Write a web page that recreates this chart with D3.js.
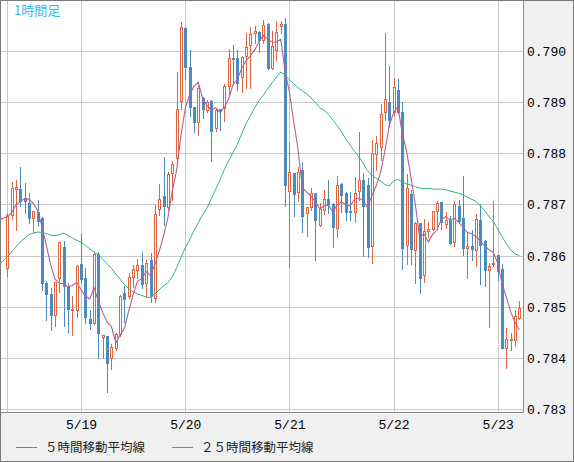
<!DOCTYPE html>
<html><head><meta charset="utf-8">
<script src="https://cdn.jsdelivr.net/npm/d3@7"></script>
<style>html,body{margin:0;padding:0;background:#f0f0f0;}svg{display:block}</style>
</head><body><svg id="c" width="574" height="462"></svg>
<script>
// ---- data (1-hour candles, 5/18 07:00 onward) ----
const startTime = new Date(2018, 4, 18, 7);
const open = [0.78575,0.78680,0.78730,0.78731,0.78712,0.78703,0.78674,0.78686,0.78674,0.78547,
0.78525,0.78483,0.78557,0.78617,0.78540,0.78495,0.78494,0.78584,0.78556,0.78476,
0.78468,0.78603,0.78441,0.78443,0.78399,0.78420,0.78446,0.78527,0.78520,0.78559,
0.78572,0.78582,0.78546,0.78592,0.78517,0.78691,0.78716,0.78695,0.78762,0.78791,
0.78903,0.79045,0.78968,0.78890,0.78861,0.78909,0.78884,0.78903,0.78850,0.78886,
0.78889,0.78932,0.78987,0.78987,0.78950,0.78991,0.79011,0.79036,0.79038,0.79022,
0.79053,0.78966,0.79002,0.79048,0.79052,0.78727,0.78761,0.78724,0.78768,0.78683,
0.78694,0.78722,0.78659,0.78689,0.78710,0.78701,0.78654,0.78740,0.78723,0.78688,
0.78686,0.78727,0.78748,0.78738,0.78618,0.78798,0.78813,0.78880,0.78901,0.78880,
0.78924,0.78880,0.78620,0.78721,0.78611,0.78663,0.78562,0.78649,0.78652,0.78688,
0.78705,0.78662,0.78669,0.78627,0.78696,0.78674,0.78615,0.78618,0.78610,0.78670,
0.78629,0.78571,0.78583,0.78602,0.78574,0.78420,0.78435,0.78435,0.78478];
const high = [0.78684,0.78743,0.78748,0.78774,0.78742,0.78722,0.78688,0.78709,0.78676,0.78551,
0.78537,0.78549,0.78627,0.78629,0.78547,0.78521,0.78582,0.78643,0.78576,0.78494,
0.78605,0.78607,0.78444,0.78443,0.78427,0.78449,0.78522,0.78541,0.78565,0.78582,
0.78594,0.78607,0.78592,0.78605,0.78699,0.78740,0.78793,0.78763,0.78784,0.78958,
0.79056,0.79046,0.79002,0.78891,0.78932,0.78910,0.78905,0.78905,0.78888,0.78887,
0.78936,0.79003,0.79012,0.79002,0.78991,0.79035,0.79046,0.79049,0.79039,0.79060,
0.79054,0.79039,0.79059,0.79059,0.79064,0.78823,0.78762,0.78774,0.78782,0.78695,
0.78732,0.78723,0.78703,0.78728,0.78748,0.78703,0.78755,0.78741,0.78724,0.78724,
0.78753,0.78842,0.78762,0.78752,0.78826,0.78833,0.78896,0.79035,0.78971,0.78948,
0.78946,0.78900,0.78760,0.78729,0.78666,0.78664,0.78671,0.78666,0.78688,0.78707,
0.78705,0.78686,0.78678,0.78707,0.78709,0.78756,0.78644,0.78650,0.78682,0.78701,
0.78631,0.78586,0.78707,0.78602,0.78584,0.78458,0.78448,0.78493,0.78512];
const low = [0.78560,0.78672,0.78650,0.78696,0.78684,0.78664,0.78646,0.78658,0.78533,0.78474,
0.78455,0.78463,0.78529,0.78463,0.78450,0.78444,0.78480,0.78547,0.78469,0.78456,
0.78467,0.78400,0.78400,0.78334,0.78378,0.78416,0.78443,0.78471,0.78517,0.78539,
0.78556,0.78537,0.78519,0.78510,0.78510,0.78680,0.78659,0.78689,0.78709,0.78787,
0.78887,0.78946,0.78873,0.78842,0.78836,0.78869,0.78881,0.78784,0.78843,0.78845,
0.78863,0.78912,0.78936,0.78924,0.78920,0.78927,0.78927,0.79015,0.78999,0.79016,
0.78965,0.78965,0.78983,0.79035,0.78696,0.78578,0.78678,0.78706,0.78647,0.78639,
0.78689,0.78592,0.78658,0.78682,0.78684,0.78616,0.78637,0.78686,0.78669,0.78669,
0.78665,0.78708,0.78600,0.78598,0.78585,0.78768,0.78787,0.78865,0.78852,0.78872,
0.78879,0.78574,0.78584,0.78584,0.78547,0.78527,0.78548,0.78637,0.78650,0.78652,
0.78651,0.78654,0.78623,0.78618,0.78666,0.78602,0.78556,0.78592,0.78580,0.78545,
0.78541,0.78461,0.78580,0.78553,0.78420,0.78381,0.78416,0.78424,0.78476];
const close = [0.78680,0.78732,0.78734,0.78706,0.78706,0.78674,0.78688,0.78667,0.78546,0.78525,
0.78483,0.78549,0.78626,0.78541,0.78495,0.78496,0.78579,0.78555,0.78479,0.78468,
0.78603,0.78448,0.78444,0.78389,0.78422,0.78446,0.78521,0.78515,0.78559,0.78574,
0.78582,0.78544,0.78585,0.78520,0.78681,0.78711,0.78696,0.78760,0.78779,0.78886,
0.79047,0.78968,0.78891,0.78862,0.78928,0.78887,0.78901,0.78844,0.78885,0.78883,
0.78932,0.78986,0.78984,0.78938,0.78989,0.79008,0.79034,0.79039,0.79022,0.79051,
0.78966,0.79010,0.79037,0.79052,0.78738,0.78764,0.78720,0.78763,0.78678,0.78695,
0.78722,0.78669,0.78691,0.78710,0.78701,0.78656,0.78738,0.78719,0.78686,0.78685,
0.78722,0.78748,0.78697,0.78617,0.78800,0.78820,0.78877,0.78906,0.78865,0.78929,
0.78880,0.78615,0.78733,0.78613,0.78663,0.78556,0.78648,0.78652,0.78688,0.78703,
0.78665,0.78670,0.78624,0.78701,0.78667,0.78615,0.78618,0.78613,0.78672,0.78620,
0.78572,0.78580,0.78586,0.78569,0.78420,0.78437,0.78437,0.78482,0.78497];
// 5-hour MA values read at the left edge (positions -2..3), before the window fills
const ma5Lead = [0.78669,0.78673,0.78676,0.78684,0.78699,0.78706];
// 25-hour MA (positions -2..118)
const ma25 = [0.78581,0.78590,
0.78598,0.78607,0.78617,0.78627,0.78634,0.78641,0.78644,0.78646,0.78645,0.78643,
0.78640,0.78639,0.78641,0.78644,0.78639,0.78634,0.78630,0.78626,0.78620,0.78613,
0.78607,0.78602,0.78593,0.78584,0.78575,0.78564,0.78554,0.78543,0.78535,0.78529,
0.78525,0.78522,0.78519,0.78518,0.78525,0.78533,0.78541,0.78547,0.78558,0.78576,
0.78596,0.78615,0.78631,0.78648,0.78664,0.78680,0.78693,0.78711,0.78729,0.78748,
0.78768,0.78785,0.78801,0.78817,0.78838,0.78858,0.78873,0.78889,0.78903,0.78914,
0.78926,0.78938,0.78949,0.78959,0.78953,0.78944,0.78936,0.78928,0.78922,0.78916,
0.78908,0.78899,0.78889,0.78884,0.78876,0.78865,0.78854,0.78842,0.78828,0.78816,
0.78804,0.78793,0.78781,0.78766,0.78757,0.78751,0.78746,0.78739,0.78736,0.78746,
0.78749,0.78744,0.78740,0.78738,0.78735,0.78732,0.78731,0.78731,0.78730,0.78730,
0.78730,0.78729,0.78726,0.78724,0.78722,0.78719,0.78714,0.78710,0.78706,0.78697,
0.78688,0.78676,0.78666,0.78652,0.78637,0.78623,0.78611,0.78603,0.78600];
const priceTicks = [0.783,0.784,0.785,0.786,0.787,0.788,0.789,0.790];
const titleText = "1時間足";
const legendLabels = ["５時間移動平均線", "２５時間移動平均線"];
const colors = {up:"#e0643e", down:"#4a8bc2", ma5:"#bb5e8e", ma25:"#2fb57c", grid:"#c8c8c8"};

// ---- chart ----
const svg = d3.select("#c");
const n = close.length;
const times = d3.range(n).map(i => d3.timeHour.offset(startTime, i));
const x = d3.scaleLinear().domain([0, n - 1]).range([7.3, 7.3 + 4.34 * (n - 1)]);
const y = d3.scaleLinear().domain([0.783, 0.790]).range([409, 51]);
const plot = {l: 1, t: 1, r: 523, b: 412};

svg.append("rect").attr("x", 0).attr("y", 0).attr("width", 574).attr("height", 462).attr("fill", "#f0f0f0");
svg.append("rect").attr("x", plot.l).attr("y", plot.t).attr("width", plot.r - plot.l).attr("height", plot.b - plot.t).attr("fill", "#fff");
svg.append("clipPath").attr("id", "clip").append("rect")
  .attr("x", plot.l).attr("y", plot.t).attr("width", plot.r - plot.l).attr("height", plot.b - plot.t);

// grid
const dayIdx = d3.range(n).filter(i => times[i].getHours() === 0);
const g = svg.append("g").attr("clip-path", "url(#clip)");
g.selectAll("line.h").data(priceTicks).join("line")
  .attr("x1", plot.l).attr("x2", plot.r)
  .attr("y1", d => Math.round(y(d)) + 0.5).attr("y2", d => Math.round(y(d)) + 0.5)
  .attr("stroke", colors.grid);
g.selectAll("line.v").data([0, ...dayIdx]).join("line")
  .attr("x1", d => Math.round(x(d)) + 0.5).attr("x2", d => Math.round(x(d)) + 0.5)
  .attr("y1", plot.t).attr("y2", plot.b)
  .attr("stroke", colors.grid);

// candles
const cg = svg.append("g").attr("clip-path", "url(#clip)");
d3.range(n).forEach(i => {
  const cx = Math.round(x(i));
  const up = close[i] >= open[i];
  const col = up ? colors.up : colors.down;
  cg.append("line").attr("x1", cx + 0.5).attr("x2", cx + 0.5)
    .attr("y1", Math.round(y(high[i]))).attr("y2", Math.round(y(low[i])) + 1)
    .attr("stroke", col).attr("stroke-width", 1);
  const top = Math.round(y(Math.max(open[i], close[i])));
  const bot = Math.round(y(Math.min(open[i], close[i])));
  if (up) {
    cg.append("rect").attr("x", cx - 0.5).attr("y", top + 0.5)
      .attr("width", 2).attr("height", Math.max(1, bot - top))
      .attr("fill", "#fff").attr("stroke", col).attr("stroke-width", 1);
  } else {
    cg.append("rect").attr("x", cx - 1).attr("y", top)
      .attr("width", 3).attr("height", Math.max(1, bot - top + 1))
      .attr("fill", col);
  }
});

// moving averages
const ma5 = d3.range(-2, n).map(i => i < 4 ? ma5Lead[i + 2] : d3.mean(close.slice(i - 4, i + 1)));
const line = d3.line().x((d, k) => x(k - 2)).y(d => y(d));
const lg = svg.append("g").attr("clip-path", "url(#clip)");
lg.append("path").datum(ma25).attr("d", line).attr("fill", "none")
  .attr("stroke", colors.ma25).attr("stroke-width", 1);
lg.append("path").datum(ma5).attr("d", line).attr("fill", "none")
  .attr("stroke", colors.ma5).attr("stroke-width", 1.1);

// plot borders
svg.append("line").attr("x1", plot.r + 0.5).attr("x2", plot.r + 0.5).attr("y1", 0).attr("y2", plot.b + 1).attr("stroke", "#8c8c8c");
svg.append("line").attr("x1", 0).attr("x2", plot.r + 1).attr("y1", plot.b + 0.5).attr("y2", plot.b + 0.5).attr("stroke", "#8c8c8c");

// y axis labels (right)
const yAxis = d3.axisRight(y).tickValues(priceTicks).tickFormat(d3.format(".3f")).tickSize(0).tickPadding(3);
const ya = svg.append("g").attr("transform", `translate(${plot.r + 1},0)`).call(yAxis);
ya.select(".domain").remove();
ya.selectAll("text").attr("font-family", "Liberation Mono, DejaVu Sans Mono, monospace")
  .attr("font-size", 13).attr("fill", "#000").attr("dy", "0.35em");

// x axis labels
const xAxis = d3.axisBottom(x).tickValues(dayIdx).tickFormat(i => d3.timeFormat("%-m/%-d")(times[i])).tickSize(0).tickPadding(7);
const xa = svg.append("g").attr("transform", `translate(0,${plot.b + 1})`).call(xAxis);
xa.select(".domain").remove();
xa.selectAll("text").attr("font-family", "Liberation Mono, DejaVu Sans Mono, monospace")
  .attr("font-size", 13).attr("fill", "#000");

// title
svg.append("text").attr("x", 14).attr("y", 15).text(titleText)
  .attr("font-family", "Noto Sans CJK JP, sans-serif").attr("font-size", 13).attr("fill", "#35b9ee");

// legend
const legend = svg.append("g");
const legX = [16, 172];
legendLabels.forEach((t, k) => {
  const c = k === 0 ? colors.ma5 : colors.ma25;
  legend.append("line").attr("x1", legX[k]).attr("x2", legX[k] + 21).attr("y1", 447.5).attr("y2", 447.5).attr("stroke", c);
  legend.append("text").attr("x", legX[k] + 29).attr("y", 452).text(t)
    .attr("font-family", "Noto Sans CJK JP, sans-serif").attr("font-size", 12.5).attr("fill", "#222");
});

// outer frame
svg.append("rect").attr("x", 0.5).attr("y", 0.5).attr("width", 573).attr("height", 461)
  .attr("fill", "none").attr("stroke", "#7a7a7a");
</script></body></html>
